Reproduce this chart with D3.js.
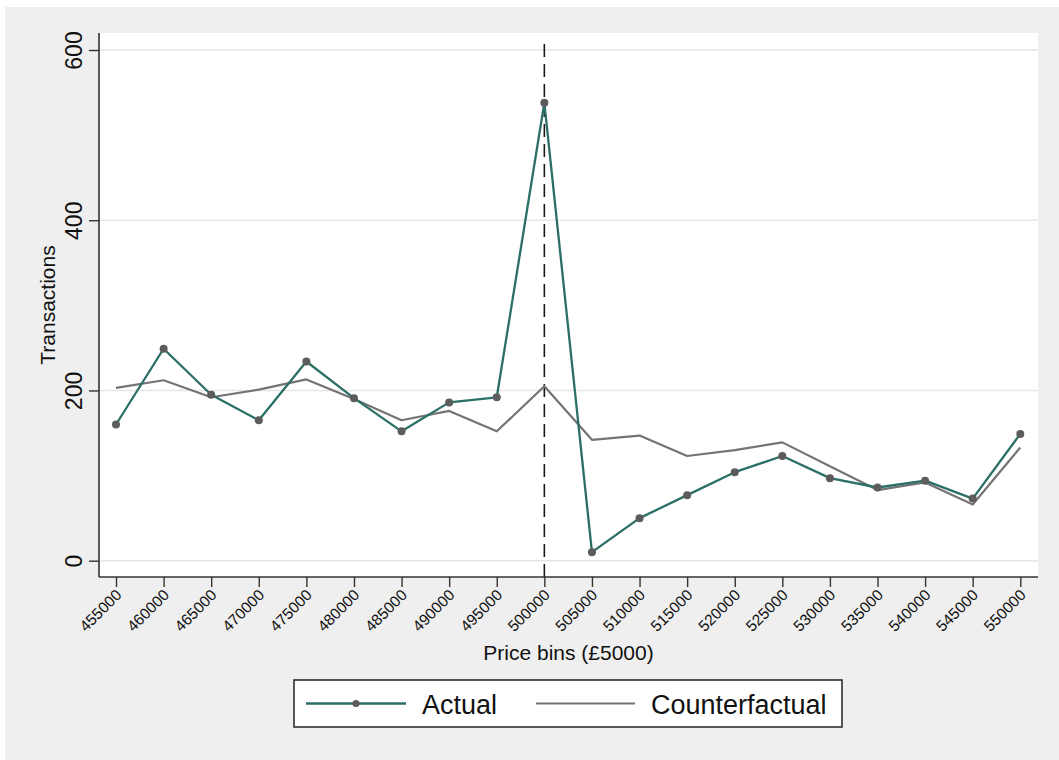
<!DOCTYPE html>
<html>
<head>
<meta charset="utf-8">
<script src="https://cdn.jsdelivr.net/npm/d3@7"></script>
<style>
  html, body { margin: 0; padding: 0; background: #ffffff; }
  svg { display: block; font-family: "Liberation Sans", Arial, sans-serif; }
</style>
</head>
<body>
<svg id="chart" width="1059" height="760"></svg>
<script>
// Price bins (lower bound, £)
const bins = [455000, 460000, 465000, 470000, 475000, 480000, 485000, 490000, 495000, 500000,
              505000, 510000, 515000, 520000, 525000, 530000, 535000, 540000, 545000, 550000];
// Observed transactions per bin
const actual = [160, 249, 195, 165, 234, 191, 152, 186, 192, 538,
                10, 50, 77, 104, 123, 97, 86, 94, 73, 149];
// Counterfactual distribution per bin
const counterfactual = [203, 212, 192, 201, 213, 190, 165, 176, 152, 205,
                        142, 147, 123, 130, 139, 111, 83, 92, 66, 133];
const yTicks = [0, 200, 400, 600];
const threshold = 500000;
const seriesNames = ["Actual", "Counterfactual"];

const svg = d3.select("#chart");
const W = 1059, H = 760;
const plot = { left: 99, right: 1038, top: 33, bottom: 577 };

// Figure background
svg.append("rect").attr("x", 5).attr("y", 7).attr("width", W - 5).attr("height", H - 7)
  .attr("fill", "#efefef");
// Plot region
svg.append("rect").attr("x", plot.left).attr("y", plot.top)
  .attr("width", plot.right - plot.left).attr("height", plot.bottom - plot.top)
  .attr("fill", "#ffffff");

const x = d3.scaleLinear().domain([455000, 550000]).range([116, 1020.3]);
const y = d3.scaleLinear().domain([0, 600]).range([560.7, 50]);

// Horizontal gridlines
svg.append("g").selectAll("line").data(yTicks).join("line")
  .attr("x1", plot.left).attr("x2", plot.right)
  .attr("y1", d => y(d)).attr("y2", d => y(d))
  .attr("stroke", "#e6e6e6").attr("stroke-width", 1.6);

// Y axis
const yAxis = svg.append("g").attr("transform", `translate(${plot.left},0)`)
  .call(d3.axisLeft(y).tickValues(yTicks).tickSize(10).tickPadding(0).tickFormat(d3.format("d")));
yAxis.select(".domain").remove();
yAxis.selectAll(".tick line").attr("stroke", "#333").attr("stroke-width", 1.4);
yAxis.selectAll(".tick text")
  .attr("x", null).attr("dy", null)
  .attr("transform", "translate(-17,0) rotate(-90)")
  .attr("text-anchor", "middle")
  .attr("font-size", 23).attr("fill", "#111");
svg.append("line").attr("x1", plot.left).attr("x2", plot.left)
  .attr("y1", plot.top).attr("y2", plot.bottom)
  .attr("stroke", "#333").attr("stroke-width", 1.6);

// X axis
const xAxis = svg.append("g").attr("transform", `translate(0,${plot.bottom})`)
  .call(d3.axisBottom(x).tickValues(bins).tickSize(10).tickPadding(0).tickFormat(d3.format("d")));
xAxis.select(".domain").remove();
xAxis.selectAll(".tick line").attr("stroke", "#333").attr("stroke-width", 1.4);
xAxis.selectAll(".tick text")
  .attr("y", null).attr("dy", null)
  .attr("transform", "translate(6,19) rotate(-45)")
  .attr("text-anchor", "end")
  .attr("font-size", 15.5).attr("fill", "#111");
svg.append("line").attr("x1", plot.left).attr("x2", plot.right)
  .attr("y1", plot.bottom).attr("y2", plot.bottom)
  .attr("stroke", "#333").attr("stroke-width", 1.6);

// Axis titles
svg.append("text").attr("x", (plot.left + plot.right) / 2).attr("y", 660)
  .attr("text-anchor", "middle").attr("font-size", 21).attr("fill", "#111")
  .text("Price bins (£5000)");
svg.append("text").attr("transform", `translate(55,${(plot.top + plot.bottom) / 2}) rotate(-90)`)
  .attr("text-anchor", "middle").attr("font-size", 21).attr("fill", "#111")
  .text("Transactions");

// Threshold line
svg.append("line").attr("x1", x(threshold)).attr("x2", x(threshold))
  .attr("y1", 44).attr("y2", plot.bottom)
  .attr("stroke", "#1a1a1a").attr("stroke-width", 1.6).attr("stroke-dasharray", "13,7");

const line = d3.line().x((d, i) => x(bins[i])).y(d => y(d));

// Counterfactual series
svg.append("path").datum(counterfactual).attr("d", line)
  .attr("fill", "none").attr("stroke", "#747474").attr("stroke-width", 2.2)
  .attr("stroke-linejoin", "round");

// Actual series
svg.append("path").datum(actual).attr("d", line)
  .attr("fill", "none").attr("stroke", "#2b6f67").attr("stroke-width", 2.3)
  .attr("stroke-linejoin", "round");
svg.append("g").selectAll("circle").data(actual).join("circle")
  .attr("cx", (d, i) => x(bins[i])).attr("cy", d => y(d)).attr("r", 4)
  .attr("fill", "#5c5c5c");

// Legend
const lg = svg.append("g");
lg.append("rect").attr("x", 294).attr("y", 680).attr("width", 548).attr("height", 47)
  .attr("fill", "#ffffff").attr("stroke", "#222").attr("stroke-width", 1.5);
const ly = 703.5;
lg.append("line").attr("x1", 306).attr("x2", 406).attr("y1", ly).attr("y2", ly)
  .attr("stroke", "#2b6f67").attr("stroke-width", 2.3);
lg.append("circle").attr("cx", 356).attr("cy", ly).attr("r", 3.6).attr("fill", "#5c5c5c");
lg.append("text").attr("x", 422).attr("y", ly + 10).attr("font-size", 27).attr("fill", "#111")
  .text(seriesNames[0]);
lg.append("line").attr("x1", 536).attr("x2", 635).attr("y1", ly).attr("y2", ly)
  .attr("stroke", "#747474").attr("stroke-width", 2.2);
lg.append("text").attr("x", 651).attr("y", ly + 10).attr("font-size", 27).attr("fill", "#111")
  .text(seriesNames[1]);
</script>
</body>
</html>
